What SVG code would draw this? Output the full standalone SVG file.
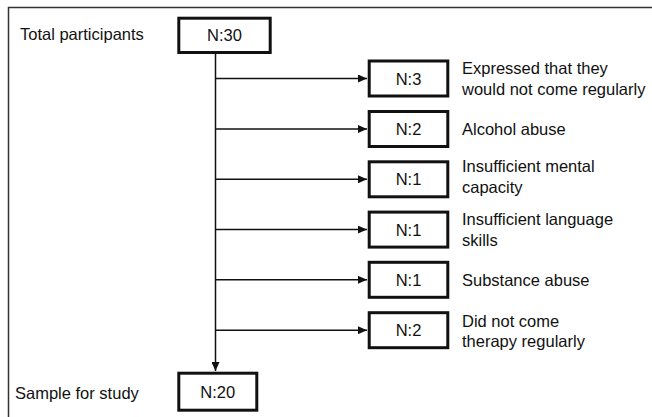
<svg xmlns="http://www.w3.org/2000/svg" width="652" height="417" viewBox="0 0 652 417">
  <style>
    .box { fill: #ffffff; stroke: #111111; stroke-width: 3; }
    .t { font-family: "Liberation Sans", Arial, sans-serif; font-size: 16.5px; fill: #111111; }
    .c { text-anchor: middle; }
    .ln { stroke: #111111; stroke-width: 1.5; fill: none; }
    .frame { stroke: #333333; stroke-width: 1.5; fill: none; }
  </style>
  <defs>
    <marker id="arr" markerWidth="10" markerHeight="8" refX="9" refY="4" orient="auto" markerUnits="userSpaceOnUse">
      <path d="M0,0 L9,4 L0,8 Z" fill="#111111"/>
    </marker>
  </defs>
  <rect width="652" height="417" fill="#ffffff"/>
  <path class="frame" d="M8.5,417 L8.5,7.5 L652,7.5"/>

  <g id="connectors">
    <line class="ln" x1="215.5" y1="54" x2="215.5" y2="371" marker-end="url(#arr)"/>
    <line class="ln" x1="215.5" y1="78.5" x2="367" y2="78.5" marker-end="url(#arr)"/>
    <line class="ln" x1="215.5" y1="129" x2="367" y2="129" marker-end="url(#arr)"/>
    <line class="ln" x1="215.5" y1="179.3" x2="367" y2="179.3" marker-end="url(#arr)"/>
    <line class="ln" x1="215.5" y1="229.6" x2="367" y2="229.6" marker-end="url(#arr)"/>
    <line class="ln" x1="215.5" y1="279.8" x2="367" y2="279.8" marker-end="url(#arr)"/>
    <line class="ln" x1="215.5" y1="330.2" x2="367" y2="330.2" marker-end="url(#arr)"/>
  </g>

  <g id="label-total">
    <text class="t" x="20" y="40">Total participants</text>
  </g>
  <g id="node-n30">
    <rect class="box" x="178.8" y="18.2" width="91.4" height="34.3"/>
    <text class="t c" x="224.5" y="41">N:30</text>
  </g>

  <g id="node-n3">
    <rect class="box" x="369.2" y="61" width="78.6" height="35"/>
    <text class="t c" x="408.5" y="84.5">N:3</text>
    <text class="t" x="462" y="74">Expressed that they</text>
    <text class="t" x="462" y="94.5">would not come regularly</text>
  </g>
  <g id="node-n2a">
    <rect class="box" x="369.2" y="111.5" width="78.6" height="35"/>
    <text class="t c" x="408.5" y="135">N:2</text>
    <text class="t" x="462" y="134.5">Alcohol abuse</text>
  </g>
  <g id="node-n1a">
    <rect class="box" x="369.2" y="161.8" width="78.6" height="35"/>
    <text class="t c" x="408.5" y="185.3">N:1</text>
    <text class="t" x="462" y="172">Insufficient mental</text>
    <text class="t" x="462" y="192.5">capacity</text>
  </g>
  <g id="node-n1b">
    <rect class="box" x="369.2" y="212.1" width="78.6" height="35"/>
    <text class="t c" x="408.5" y="235.6">N:1</text>
    <text class="t" x="462" y="225">Insufficient language</text>
    <text class="t" x="462" y="245.5">skills</text>
  </g>
  <g id="node-n1c">
    <rect class="box" x="369.2" y="262.3" width="78.6" height="35"/>
    <text class="t c" x="408.5" y="285.8">N:1</text>
    <text class="t" x="462" y="285.5">Substance abuse</text>
  </g>
  <g id="node-n2b">
    <rect class="box" x="369.2" y="312.7" width="78.6" height="35"/>
    <text class="t c" x="408.5" y="336.2">N:2</text>
    <text class="t" x="462" y="326.5">Did not come</text>
    <text class="t" x="462" y="347">therapy regularly</text>
  </g>

  <g id="label-sample">
    <text class="t" x="15" y="399">Sample for study</text>
  </g>
  <g id="node-n20">
    <rect class="box" x="178.8" y="373.2" width="78" height="37"/>
    <text class="t c" x="217.8" y="397.5">N:20</text>
  </g>
</svg>
